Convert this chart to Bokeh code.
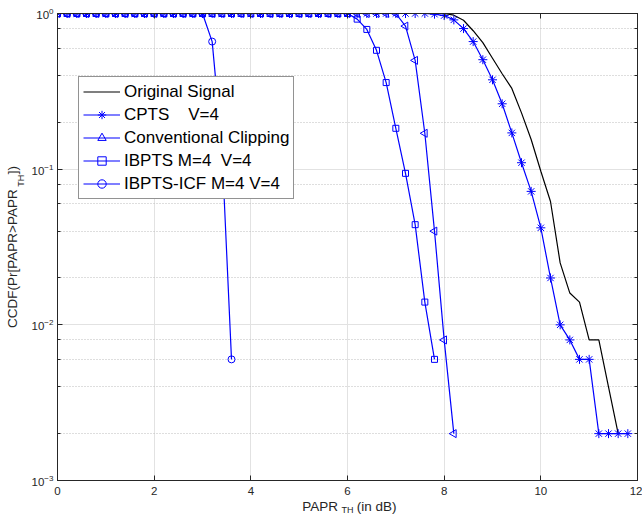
import math, json
from bokeh.plotting import figure
from bokeh.models import (Range1d, LinearAxis, LogAxis, FixedTicker, LogTicker,
                          Legend, LegendItem, CustomJSTickFormatter)
from bokeh.embed import file_html
from bokeh.resources import INLINE

# ---------------- data ----------------
papr_th = [0.0, 0.2, 0.4, 0.6, 0.8, 1.0, 1.2, 1.4, 1.6, 1.8,
           2.0, 2.2, 2.4, 2.6, 2.8, 3.0, 3.2, 3.4, 3.6, 3.8,
           4.0, 4.2, 4.4, 4.6, 4.8, 5.0, 5.2, 5.4, 5.6, 5.8,
           6.0, 6.2, 6.4, 6.6, 6.8, 7.0, 7.2, 7.4, 7.6, 7.8,
           8.0, 8.2, 8.4, 8.6, 8.8, 9.0, 9.2, 9.4, 9.6, 9.8,
           10.0, 10.2, 10.4, 10.6, 10.8, 11.0, 11.2, 11.4, 11.6, 11.8]

original_ccdf = [1, 1, 1, 1, 1, 1, 1, 1, 1, 1,
                 1, 1, 1, 1, 1, 1, 1, 1, 1, 1,
                 1, 1, 1, 1, 1, 1, 1, 1, 1, 1,
                 1, 1, 1, 1, 1, 1, 1, 1, 1, 1,
                 1, 0.975, 0.905, 0.775, 0.65, 0.516, 0.41, 0.33, 0.23, 0.155,
                 0.097, 0.062, 0.025, 0.016, 0.014, 0.008, 0.008, 0.004, 0.002]

cpts_ccdf = [1, 1, 1, 1, 1, 1, 1, 1, 1, 1,
             1, 1, 1, 1, 1, 1, 1, 1, 1, 1,
             1, 1, 1, 1, 1, 1, 1, 1, 1, 1,
             1, 1, 1, 1, 1, 1, 1, 1, 1, 0.99,
             0.97, 0.91, 0.80, 0.66, 0.505, 0.375, 0.263, 0.171, 0.110, 0.072,
             0.042, 0.020, 0.010, 0.008, 0.006, 0.006, 0.002, 0.002, 0.002, 0.002]

clipping_ccdf = [1, 1, 1, 1, 1, 1, 1, 1, 1, 1,
                 1, 1, 1, 1, 1, 1, 1, 1, 1, 1,
                 1, 1, 1, 1, 1, 1, 1, 1, 1, 1,
                 1, 1, 1, 1, 1, 1, 0.83, 0.50, 0.17, 0.040,
                 0.008, 0.002]

ibpts_ccdf = [1, 1, 1, 1, 1, 1, 1, 1, 1, 1,
              1, 1, 1, 1, 1, 1, 1, 1, 1, 1,
              1, 1, 1, 1, 1, 1, 1, 1, 1, 1,
              1, 0.92, 0.79, 0.58, 0.36, 0.183, 0.094, 0.044, 0.014, 0.006]

ibpts_icf_ccdf = [1, 1, 1, 1, 1, 1, 1, 1, 1, 1,
                  1, 1, 1, 1, 1, 1, 0.66, 0.14, 0.006]

x_ticks = [0, 2, 4, 6, 8, 10, 12]
series_labels = ["Original Signal", "CPTS    V=4", "Conventional Clipping",
                 "IBPTS M=4  V=4", "IBPTS-ICF M=4 V=4"]
NB = "\u00a0"
xlabel_main = NB + "PAPR" + NB * 5 + "(in dB)"      # subscript "TH" sits in the gap
ylabel_main = "CCDF(Pr[PAPR>PAPR" + NB * 4 + "])"
sub_text = "TH"

# ---------------- styling ----------------
FONT = "Liberation Sans"
AX = "#262626"
BLUE = "#0000ff"
FIG_W, FIG_H = 642, 518
BL, BR, BT, BB = 57, 5, 13, 38
LS, SS = "13.5px", "9px"
TICK_FS = "11.5px"

p = figure(width=FIG_W, height=FIG_H, output_backend="svg", toolbar_location=None,
           y_axis_type="log", x_range=Range1d(0, 12), y_range=Range1d(1e-3, 1),
           min_border_left=BL, min_border_right=BR, min_border_top=BT,
           min_border_bottom=BB)
p.background_fill_color = "white"
p.border_fill_color = "white"
p.outline_line_color = AX
p.outline_line_width = 1

p.xaxis.ticker = FixedTicker(ticks=x_ticks)
p.yaxis.ticker = LogTicker()
for ax in p.xaxis + p.yaxis:
    ax.axis_line_color = AX
    ax.major_tick_line_color = AX
    ax.minor_tick_line_color = AX
    ax.major_tick_in = 5
    ax.major_tick_out = 0
    ax.minor_tick_in = 3
    ax.minor_tick_out = 0
    ax.major_label_text_font = FONT
    ax.major_label_text_font_size = TICK_FS
    ax.major_label_text_color = AX
p.xaxis.minor_tick_line_color = None
p.xaxis.major_label_standoff = 6
p.yaxis.major_label_standoff = 4

# top / right box ticks (labels hidden)
top_ax = LinearAxis(ticker=FixedTicker(ticks=x_ticks), major_label_text_font_size="1px",
                    major_label_text_color=None,
                    major_label_standoff=0, major_tick_in=5, major_tick_out=0,
                    minor_tick_line_color=None, axis_line_color=AX,
                    major_tick_line_color=AX)
p.add_layout(top_ax, "above")
right_ax = LogAxis(ticker=LogTicker(), major_label_text_font_size="1px",
                   major_label_text_color=None,
                   major_label_standoff=0, major_tick_in=5, major_tick_out=0,
                   minor_tick_in=3, minor_tick_out=0, axis_line_color=AX,
                   major_tick_line_color=AX, minor_tick_line_color=AX)
p.add_layout(right_ax, "right")

# ---- x label: "PAPR (in dB)" as a centred label, "TH" as subscript below the gap
x_lab_ax = LinearAxis(ticker=FixedTicker(ticks=[6]),
                      formatter=CustomJSTickFormatter(code="return " + json.dumps(xlabel_main)),
                      axis_line_color=None, major_tick_line_color=None,
                      minor_tick_line_color=None,
                      major_label_text_font=FONT, major_label_text_font_size=LS,
                      major_label_text_color=AX, major_label_standoff=-5,
                      axis_label=sub_text, axis_label_text_font=FONT,
                      axis_label_text_font_size=SS, axis_label_text_font_style="normal",
                      axis_label_text_color=AX, axis_label_standoff=-12)
p.add_layout(x_lab_ax, "below")

# ---- y label: subscript "TH" as a rotated tick label placed inside the gap
W = {"C": .722, "D": .722, "F": .611, "(": .333, ")": .333, "P": .667, "r": .333,
     "[": .278, "]": .278, "A": .667, "R": .722, ">": .584, NB: .278}
def tw(s, px):
    return sum(W[c] for c in s) * px
ls = 13.5
w_main = tw("CCDF(Pr[PAPR>PAPR", ls)
w_gap = tw(NB * 4, ls)
w_all = tw(ylabel_main, ls)
decade_px = (FIG_H - BT - BB) / 3.0
gap_shift = (w_main + w_gap / 2 - w_all / 2) / decade_px   # decades above centre
y_sub_pos = 10 ** (-1.5 + gap_shift)

y_lab_ax = LogAxis(ticker=FixedTicker(ticks=[y_sub_pos]),
                   formatter=CustomJSTickFormatter(code="return " + json.dumps(sub_text)),
                   axis_line_color=None, major_tick_line_color=None,
                   minor_tick_line_color=None,
                   major_label_text_font=FONT, major_label_text_font_size=SS,
                   major_label_text_color=AX, major_label_standoff=-4,
                   major_label_orientation="vertical",
                   axis_label=ylabel_main, axis_label_text_font=FONT,
                   axis_label_text_font_size=LS, axis_label_text_font_style="normal",
                   axis_label_text_color=AX, axis_label_standoff=-6)
p.add_layout(y_lab_ax, "left")

p.xgrid.grid_line_color = "#e2e2e2"
p.ygrid.grid_line_color = "#e2e2e2"
p.ygrid.minor_grid_line_color = "#bdbdbd"
p.ygrid.minor_grid_line_dash = "1 2"

LW = 1.2
r0 = p.line(papr_th[:len(original_ccdf)], original_ccdf, line_color="black", line_width=LW)

def series(yvals, marker, size, angle=0.0):
    xs = papr_th[:len(yvals)]
    ln = p.line(xs, yvals, line_color=BLUE, line_width=LW)
    sc = p.scatter(xs, yvals, marker=marker, size=size, angle=angle,
                   line_color=BLUE, fill_color=None, line_width=1)
    return [ln, sc]

r1 = series(cpts_ccdf, "asterisk", 9)
r2 = series(clipping_ccdf, "triangle", 8, angle=math.pi / 2)
r3 = series(ibpts_ccdf, "square", 6)
r4 = series(ibpts_icf_ccdf, "circle", 7)

frame_h = FIG_H - BT - BB
legend = Legend(items=[LegendItem(label=series_labels[0], renderers=[r0]),
                       LegendItem(label=series_labels[1], renderers=r1),
                       LegendItem(label=series_labels[2], renderers=r2),
                       LegendItem(label=series_labels[3], renderers=r3),
                       LegendItem(label=series_labels[4], renderers=r4)],
                location=(21, frame_h - 64 - 122))
legend.label_text_font = FONT
legend.label_text_font_size = "17px"
legend.label_text_color = "black"
legend.glyph_width = 37
legend.glyph_height = 21
legend.label_height = 21
legend.spacing = 2
legend.padding = 4
legend.margin = 0
legend.label_standoff = 4
legend.border_line_color = AX
legend.border_line_width = 1
legend.background_fill_color = "white"
legend.background_fill_alpha = 1
p.add_layout(legend)

open("out.html", "w").write(file_html(p, INLINE))
